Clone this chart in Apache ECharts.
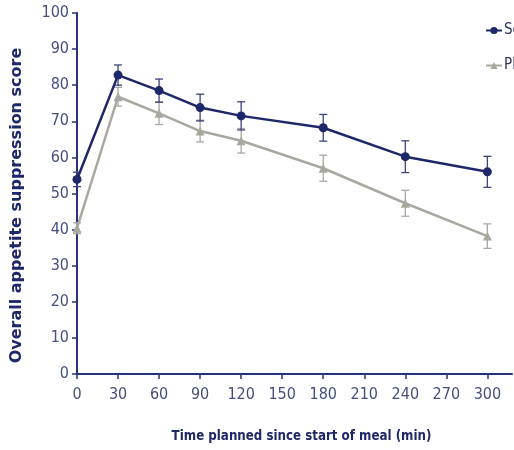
<!DOCTYPE html>
<html><head><meta charset="utf-8">
<script src="https://cdn.jsdelivr.net/npm/echarts@6/dist/echarts.min.js"></script>
<style>html,body{margin:0;padding:0;background:#fff}#c{width:514px;height:450px}</style>
</head><body><div id="c"></div>
<script>
var times = [0, 30, 60, 90, 120, 180, 240, 300];
var seriesNames = ['Sensa', 'Placebo'];
var seValues = [53.9, 82.8, 78.5, 73.8, 71.5, 68.2, 60.2, 56.0];
var seErrors = [2.0, 2.8, 3.2, 3.7, 3.9, 3.7, 4.4, 4.3];
var plValues = [40.4, 76.8, 72.2, 67.3, 64.6, 57.0, 47.3, 38.2];
var plErrors = [1.5, 2.6, 3.1, 3.0, 3.4, 3.6, 3.6, 3.4];
var xTitle = 'Time planned since start of meal (min)';
var yTitle = 'Overall appetite suppression score';

var navy = '#1e2768';
var grey = '#a9a8a0';
var axisCol = '#27337a';

function pts(v){ return times.map(function(t,i){ return [t, v[i]]; }); }
function errData(v,e){ return times.map(function(t,i){ return [t, v[i]-e[i], v[i]+e[i]]; }); }
function errSeries(v,e,color){
  return {
    type:'custom', silent:true, z:1,
    data: errData(v,e),
    renderItem: function(params, api){
      var lo = api.coord([api.value(0), api.value(1)]);
      var hi = api.coord([api.value(0), api.value(2)]);
      var w = 4;
      var st = {stroke:color, lineWidth:1.3};
      return {type:'group', children:[
        {type:'line', shape:{x1:lo[0],y1:lo[1],x2:hi[0],y2:hi[1]}, style:st},
        {type:'line', shape:{x1:lo[0]-w,y1:lo[1],x2:lo[0]+w,y2:lo[1]}, style:st},
        {type:'line', shape:{x1:hi[0]-w,y1:hi[1],x2:hi[0]+w,y2:hi[1]}, style:st}
      ]};
    }
  };
}

var chart = echarts.init(document.getElementById('c'));
var tickFont = {color:'#454e80', fontFamily:'Liberation Sans Narrow, DejaVu Sans Condensed, sans-serif', fontSize:16};
chart.setOption({
  animation:false,
  grid:{left:77, right:2, top:13, bottom:76},
  legend:{
    orient:'vertical', left:480, top:18, itemGap:20, itemWidth:16, itemHeight:9,
    data: seriesNames,
    textStyle:{color:'#2a3060', fontFamily:'Liberation Sans Narrow, DejaVu Sans Condensed, sans-serif', fontSize:15, padding:[0,0,0,-3]}
  },
  xAxis:{
    type:'value', min:0, max:318, interval:30,
    axisLine:{lineStyle:{color:axisCol, width:2}},
    axisTick:{length:5, lineStyle:{color:axisCol, width:1.5}},
    splitLine:{show:false},
    axisLabel:Object.assign({margin:13, showMaxLabel:false}, tickFont),
    name:xTitle, nameLocation:'middle', nameGap:56,
    nameTextStyle:{color:'#1e2768', fontWeight:'bold', fontSize:13.2, fontFamily:'DejaVu Sans Condensed, sans-serif', padding:[0,0,0,14]}
  },
  yAxis:{
    type:'value', min:0, max:100, interval:10,
    axisLine:{show:true, lineStyle:{color:axisCol, width:2}},
    axisTick:{show:true, length:5, lineStyle:{color:axisCol, width:1.5}},
    splitLine:{show:false},
    axisLabel:Object.assign({margin:8}, tickFont),
    name:yTitle, nameLocation:'middle', nameGap:52, nameRotate:90,
    nameTextStyle:{color:'#1e2768', fontWeight:'bold', fontSize:16, fontFamily:'DejaVu Sans, sans-serif', padding:[0,24,0,0]}
  },
  series:[
    errSeries(plValues, plErrors, grey),
    errSeries(seValues, seErrors, '#3c4478'),
    {name:seriesNames[1], type:'line', data:pts(plValues), z:3,
     symbol:'triangle', symbolSize:9, itemStyle:{color:grey},
     lineStyle:{color:grey, width:2.5}},
    {name:seriesNames[0], type:'line', data:pts(seValues), z:4,
     symbol:'circle', symbolSize:9, itemStyle:{color:navy},
     lineStyle:{color:navy, width:2.5}}
  ]
});
</script></body></html>
